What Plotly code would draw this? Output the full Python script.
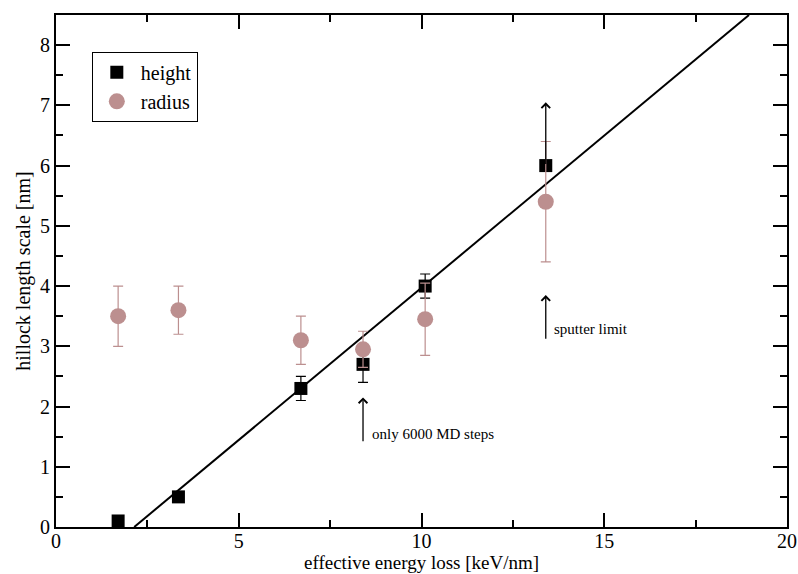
import plotly.graph_objects as go

# Data
energy_loss = [1.7, 3.35, 6.7, 8.4, 10.1, 13.4]
height = [0.1, 0.5, 2.3, 2.7, 4.0, 6.0]
height_err = [0.0, 0.0, 0.2, 0.3, 0.2, 0.0]
radius = [3.5, 3.6, 3.1, 2.95, 3.45, 5.4]
radius_err = [0.5, 0.4, 0.4, 0.3, 0.6, 1.0]
fit_x = [2.14, 18.96]
fit_y = [0.0, 8.5]

# annotations: arrow x, tail y, head y, label, label x, label y
md_arrow = dict(x=8.4, y0=1.4, y1=2.15, text="only 6000 MD steps", tx=8.6, ty=1.55)
sp_arrow = dict(x=13.4, y0=3.1, y1=3.85, text="sputter limit", tx=13.58, ty=3.28)
lim_arrow = dict(x=13.4, y0=6.0, y1=7.05)

X_TITLE = "effective energy loss [keV/nm]"
Y_TITLE = "hillock length scale [nm]"

FONT = "'Liberation Serif', 'Times New Roman', Times, serif"
ROSY = "#BC8F8F"

fig = go.Figure()

fig.add_trace(go.Scatter(
    x=fit_x, y=fit_y, mode="lines",
    line=dict(color="black", width=2), showlegend=False, hoverinfo="skip"))

fig.add_trace(go.Scatter(
    x=energy_loss, y=height, mode="markers", name="height",
    marker=dict(symbol="square", size=13, color="black"),
    error_y=dict(type="data", array=height_err, color="black", thickness=1.2, width=5),
    legendrank=1))

fig.add_trace(go.Scatter(
    x=energy_loss, y=radius, mode="markers", name="radius",
    marker=dict(symbol="circle", size=16, color=ROSY),
    error_y=dict(type="data", array=radius_err, color=ROSY, thickness=1.2, width=5),
    legendrank=2))

ann = []
for a in (md_arrow, sp_arrow, lim_arrow):
    ann.append(dict(x=a["x"], y=a["y1"], ax=a["x"], ay=a["y0"], xref="x", yref="y",
                    axref="x", ayref="y", showarrow=True, arrowhead=4, arrowsize=1.3,
                    arrowwidth=1.3, arrowcolor="black", text=""))
    if "text" in a:
        ann.append(dict(x=a["tx"], y=a["ty"], xref="x", yref="y", text=a["text"],
                        showarrow=False, xanchor="left", yanchor="middle",
                        font=dict(family=FONT, size=15, color="black")))

# x-axis title placed as a text just below the tick labels
ann.append(dict(x=0.5, y=-0.0918, xref="paper", yref="paper", text=X_TITLE,
                showarrow=False, xanchor="center", yanchor="bottom", borderpad=0,
                font=dict(family=FONT, size=19, color="black")))

axis_common = dict(
    showgrid=False, zeroline=False, showline=True, linecolor="black", linewidth=2,
    mirror="ticks", ticks="inside", ticklen=14, tickwidth=1.5, tickcolor="black",
    tickfont=dict(family=FONT, size=20, color="black"), automargin=False,
)

fig.update_layout(
    width=798, height=574,
    margin=dict(l=56, r=11, t=15, b=47),
    paper_bgcolor="white", plot_bgcolor="white",
    font=dict(family=FONT, color="black"),
    showlegend=True,
    legend=dict(x=0.049, y=0.928, xanchor="left", yanchor="top",
                bordercolor="black", borderwidth=1, bgcolor="white",
                font=dict(family=FONT, size=20, color="black"),
                itemsizing="trace", itemwidth=38, tracegroupgap=0),
    annotations=ann,
    xaxis=dict(range=[0, 20], dtick=5, tick0=0, ticklabelstandoff=-5,
               minor=dict(dtick=2.5, ticklen=7, ticks="inside", tickcolor="black", tickwidth=1.5),
               **axis_common),
    yaxis=dict(range=[0, 8.5], dtick=1, tick0=0,
               minor=dict(dtick=0.5, ticklen=7, ticks="inside", tickcolor="black", tickwidth=1.5),
               title=dict(text=Y_TITLE, standoff=4,
                          font=dict(family=FONT, size=20, color="black")),
               **axis_common),
)

fig.write_html("out.html")
